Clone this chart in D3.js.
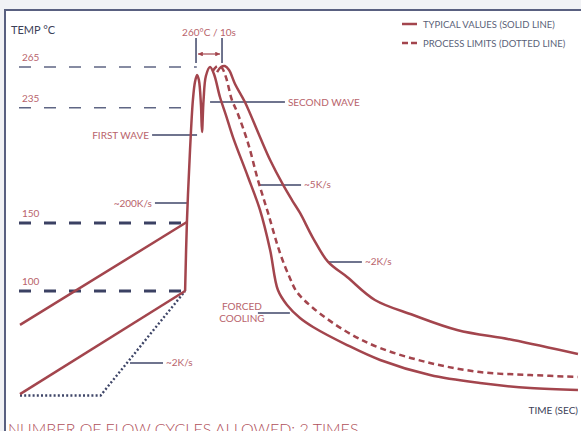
<!DOCTYPE html>
<html>
<head>
<meta charset="utf-8">
<script src="https://cdn.jsdelivr.net/npm/d3@7"></script>
<style>
  body { margin: 0; background: #fff; }
  svg { display: block; font-family: Lato, "Open Sans", sans-serif; }
</style>
</head>
<body>
<div id="chart"></div>
<script>
// reference temperature levels (°C)
var levels = [265, 235, 150, 100];
var levelLabels = ["265", "235", "150", "100"];
var levelEnds = [68, 66, 64, 63.5];      // time (s) where guide stops
var levelHeavy = [false, false, true, true];

// preheat ramps  [time s, temp °C]
var preheatHigh = [[0, 75], [64.2, 150.8]];
var preheatLow = [[0, 24], [63.5, 100]];
var preheatLimit = [[0, 23], [31, 23], [63.5, 100]];

// typical double wave + cooling
var typical = [
  [63.5, 100], [64.2, 150.8], [65.4, 204], [66.5, 240.7], [67.3, 254], [68.1, 259.1],
  [68.8, 255.4], [69.6, 237], [70.0, 217.1], [70.6, 240.7], [71.5, 258.4], [73.1, 265],
  [74.6, 259.8], [76.9, 242.9], [79.2, 229.6], [81.9, 213.4], [87.7, 184], [92.3, 159.7],
  [96.2, 130.2], [99.2, 100.7], [102.7, 89.7], [107.7, 80.1], [112.7, 73.5], [125.8, 60.2],
  [138.5, 49.2], [157.7, 38.1], [176.9, 32.2], [196.2, 28.5], [214.6, 27.1]
];

// process limit (dashed)
var limit = [
  [74.2, 262.1], [75.4, 265], [76.5, 265.7], [77.7, 264.3], [79.2, 257.6], [81.5, 240.7],
  [83.5, 231.9], [87.7, 209], [91.5, 181.8], [95.4, 157.5], [100, 128], [103.8, 109.6],
  [106.5, 99.3], [112.7, 87.5], [125.8, 69.8], [138.5, 58], [157.7, 47], [176.9, 40.3],
  [196.2, 38.1], [214.6, 36.7]
];

// slow natural cooling (outer solid)
var slow = [
  [75.8, 261.3], [77.3, 265], [78.8, 265.7], [80.4, 262.8], [82.7, 252.5], [86.5, 239.2],
  [92.3, 213.4], [96.2, 196.5], [101.2, 178.1], [104.6, 167], [107.7, 157.5], [112.7, 139],
  [118.5, 121.4], [125.8, 110.3], [136.5, 93.4], [151.2, 82.3], [168.1, 71.3],
  [189.6, 63.9], [214.6, 53.6]
];

// callouts: [label, temp, t0, t1, side]
var callouts = [
  ["SECOND WAVE", 239.2, 73.1, 101.9, "end"],
  ["FIRST WAVE", 214.9, 50.8, 68.1, "start"],
  ["~200K/s", 164.8, 51.9, 64.6, "start"],
  ["~5K/s", 178.1, 92.3, 108.1, "end"],
  ["~2K/s", 121.4, 118.5, 131.5, "end"],
  ["~2K/s", 47, 42.3, 55, "end"],
  ["FORCED\nCOOLING", 83.8, 91.5, 103.8, "start"]
];

var W = 581, H = 431;
var red = "#a3454d", labelRed = "#b8636b", navy = "#3f4668", ink = "#3d4158";

var svg = d3.select("#chart")
  .append("svg")
  .attr("width", W)
  .attr("height", H);

var defs = svg.append("defs");
defs.append("marker")
  .attr("id", "tip")
  .attr("viewBox", "0 -5 10 10")
  .attr("refX", 10)
  .attr("markerWidth", 4)
  .attr("markerHeight", 4)
  .attr("orient", "auto-start-reverse")
  .append("path")
  .attr("d", "M0,-5L10,0L0,5")
  .style("fill", red);

var x = d3.scaleLinear().domain([0, 215]).range([20, 579]);
var y = d3.scaleLinear().domain([100, 265]).range([291, 67]);

// faint strip above the frame
svg.append("rect").attr("width", W).attr("height", 10).style("fill", "#f1f2f5");
svg.append("rect").attr("width", 4).attr("height", H).style("fill", "#f1f2f5");

// frame
svg.append("path")
  .attr("d", "M5," + H + "V10H" + W)
  .style("fill", "none")
  .style("stroke", "#596080")
  .style("stroke-width", 2);

svg.append("text")
  .attr("x", 11).attr("y", 34)
  .style("font-size", "11px")
  .style("fill", ink)
  .text("TEMP °C");

// guides
levels.forEach(function(v, i) {
  svg.append("line")
    .attr("x1", x(0) - 1).attr("x2", x(levelEnds[i]))
    .attr("y1", y(v)).attr("y2", y(v))
    .style("stroke", levelHeavy[i] ? "#3b4163" : "#5f6684")
    .style("stroke-width", levelHeavy[i] ? 3 : 1.5)
    .style("stroke-dasharray", "12,13");
  svg.append("text")
    .attr("x", 22).attr("y", y(v) - 6)
    .style("font-size", "10px")
    .style("fill", labelRed)
    .text(levelLabels[i]);
});

// 260°C / 10s window
[67.7, 77.7].forEach(function(t) {
  svg.append("line")
    .attr("x1", x(t)).attr("x2", x(t))
    .attr("y1", y(265) - 29).attr("y2", y(265) - 4)
    .style("stroke", navy)
    .style("stroke-width", 1.5);
});
svg.append("line")
  .attr("x1", x(67.7) + 2).attr("x2", x(77.7) - 2)
  .attr("y1", y(265) - 13).attr("y2", y(265) - 13)
  .attr("marker-start", "url(#tip)")
  .attr("marker-end", "url(#tip)")
  .style("stroke", red)
  .style("stroke-width", 1.2);
svg.append("text")
  .attr("x", x(72.7)).attr("y", y(265) - 31)
  .attr("text-anchor", "middle")
  .style("font-size", "10px")
  .style("fill", labelRed)
  .text("260°C / 10s");

// callouts
callouts.forEach(function(c) {
  svg.append("line")
    .attr("x1", x(c[2])).attr("x2", x(c[3]))
    .attr("y1", y(c[1])).attr("y2", y(c[1]))
    .style("stroke", navy)
    .style("stroke-width", 1.5);
  var lines = c[0].split("\n");
  var t = svg.append("text")
    .style("font-size", "10px")
    .style("fill", labelRed);
  if (lines.length > 1) {
    t.attr("text-anchor", "middle");
    lines.forEach(function(s, k) {
      t.append("tspan")
        .attr("x", x(c[2]) - 16)
        .attr("y", y(c[1]) - 3 + k * 12)
        .text(s);
    });
  } else if (c[4] === "end") {
    t.attr("x", x(c[3]) + 3).attr("y", y(c[1]) + 3.5).text(c[0]);
  } else {
    t.attr("x", x(c[2]) - 3).attr("y", y(c[1]) + 3.5)
      .attr("text-anchor", "end").text(c[0]);
  }
});

// profiles
var straight = d3.line().x(function(d) { return x(d[0]); }).y(function(d) { return y(d[1]); });
var smooth = d3.line().x(function(d) { return x(d[0]); }).y(function(d) { return y(d[1]); })
  .curve(d3.curveCatmullRom.alpha(0.5));

svg.append("path").datum(preheatLimit)
  .attr("d", straight)
  .style("fill", "none").style("stroke", navy)
  .style("stroke-width", 2.4).style("stroke-dasharray", "2,2.2");

[preheatHigh, preheatLow].forEach(function(p) {
  svg.append("path").datum(p)
    .attr("d", straight)
    .style("fill", "none").style("stroke", red).style("stroke-width", 2.5);
});

svg.append("path").datum(limit)
  .attr("d", smooth)
  .style("fill", "none").style("stroke", red)
  .style("stroke-width", 2.5).style("stroke-dasharray", "6,4");

[typical, slow].forEach(function(p) {
  svg.append("path").datum(p)
    .attr("d", smooth)
    .style("fill", "none").style("stroke", red)
    .style("stroke-width", 2.5).style("stroke-linejoin", "round");
});

// legend
var legend = [["TYPICAL VALUES (SOLID LINE)", null], ["PROCESS LIMITS (DOTTED LINE)", "6,3"]];
legend.forEach(function(l, i) {
  var ly = 24 + i * 19;
  svg.append("line")
    .attr("x1", 402).attr("x2", 417).attr("y1", ly).attr("y2", ly)
    .style("stroke", red).style("stroke-width", 2.5)
    .style("stroke-dasharray", l[1]);
  svg.append("text")
    .attr("x", 423).attr("y", ly + 3.5)
    .style("font-size", "9.5px")
    .style("fill", "#5a5f78")
    .text(l[0]);
});

svg.append("text")
  .attr("x", 578).attr("y", 414)
  .attr("text-anchor", "end")
  .style("font-size", "10px")
  .style("fill", ink)
  .text("TIME (SEC)");

// footer note, cut by the bottom edge as in the source
svg.append("text")
  .attr("x", 8).attr("y", 435)
  .style("font-size", "16px")
  .style("font-weight", 300)
  .style("fill", "#b0505a")
  .text("NUMBER OF FLOW CYCLES ALLOWED: 2 TIMES");
</script>
</body>
</html>
